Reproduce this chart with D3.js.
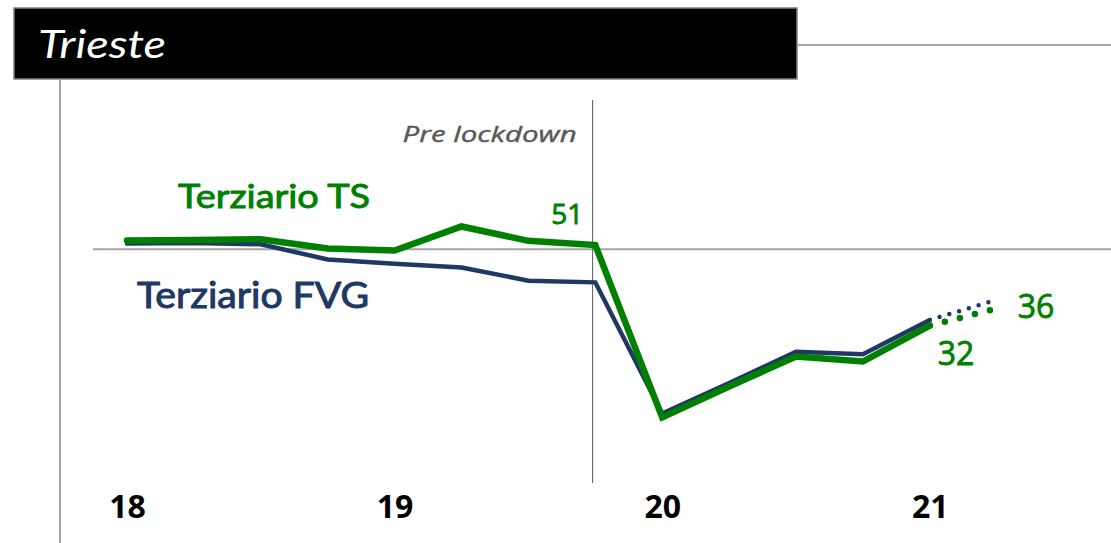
<!DOCTYPE html>
<html>
<head>
<meta charset="utf-8">
<script src="https://cdn.jsdelivr.net/npm/d3@7"></script>
<style>
  html, body { margin: 0; padding: 0; background: #fff; }
  svg { display: block; }
</style>
</head>
<body>
<svg id="chart" width="1111" height="543"></svg>
<script>
// ---- data ----
const title = "Trieste";
const quarters = ["18Q1","18Q2","18Q3","18Q4","19Q1","19Q2","19Q3","19Q4","20Q1","20Q2","20Q3","20Q4","21Q1","21Q2"];
const yearTicks = [0, 4, 8, 12];
const yearLabels = ["18", "19", "20", "21"];
const tsValues  = [52.1, 52.2, 52.4, 50.2, 49.7, 55.4, 52.0, 51.0, 10.3, 17.6, 24.7, 23.5, 32.0];
const fvgValues = [51.4, 51.5, 51.2, 47.6, 46.6, 45.7, 42.6, 42.2, 11.2, 18.4, 25.8, 25.2, 33.3];
const tsForecast  = [32.0, 36.0];   // 21Q1 -> 21Q2 (dotted)
const fvgForecast = [33.3, 38.1];
const referenceLevel = 50;
const lockdownIndex = 6.96;
const seriesNames = ["Terziario TS", "Terziario FVG"];
const annotations = [
  { idx: 7,  value: 51, text: "51" },
  { idx: 12, value: 32, text: "32" },
  { idx: 13, value: 36, text: "36" }
];

// ---- drawing ----
const svg = d3.select("#chart");
const GREEN = "#008000", BLUE = "#203864", GRAY = "#a6a6a6";

const x = d3.scaleLinear().domain([0, 13]).range([127, 127 + 13 * 66.9]);
const y = d3.scaleLinear().domain([0, 60]).range([461, 207]);

// title box
svg.append("rect").attr("x", 14).attr("y", 8).attr("width", 783).attr("height", 71)
  .attr("fill", "#000").attr("stroke", "#7f7f7f").attr("stroke-width", 1.5);
svg.append("line").attr("x1", 797).attr("x2", 1111).attr("y1", 45).attr("y2", 45)
  .attr("stroke", GRAY).attr("stroke-width", 2);
svg.append("text").attr("x", 38).attr("y", 58).text(title)
  .attr("fill", "#fff").attr("font-family", "Lato, 'Open Sans', sans-serif")
  .attr("font-style", "italic").attr("font-size", 38)
  .attr("textLength", 128).attr("lengthAdjust", "spacingAndGlyphs");

// left frame line
svg.append("line").attr("x1", 60).attr("x2", 60).attr("y1", 79).attr("y2", 543)
  .attr("stroke", GRAY).attr("stroke-width", 2);

// reference line at 50
svg.append("line").attr("x1", 93).attr("x2", 1111)
  .attr("y1", y(referenceLevel)).attr("y2", y(referenceLevel))
  .attr("stroke", GRAY).attr("stroke-width", 2);

// lockdown marker
svg.append("line").attr("x1", x(lockdownIndex)).attr("x2", x(lockdownIndex))
  .attr("y1", 100).attr("y2", 483).attr("stroke", "#595959").attr("stroke-width", 1);
svg.append("text").attr("x", x(lockdownIndex) - 16).attr("y", 142).attr("text-anchor", "end")
  .text("Pre lockdown").attr("fill", "#595959")
  .attr("stroke", "#595959").attr("stroke-width", 0.4)
  .attr("font-family", "'Open Sans', sans-serif").attr("font-style", "italic")
  .attr("font-size", 22).attr("font-weight", 400)
  .attr("textLength", 174).attr("lengthAdjust", "spacingAndGlyphs");

const line = d3.line().x((d, i) => x(i)).y(d => y(d));
const fline = d3.line().x(d => x(d[0])).y(d => y(d[1]));

// FVG
svg.append("path").datum(fvgValues).attr("d", line)
  .attr("fill", "none").attr("stroke", BLUE).attr("stroke-width", 4.5)
  .attr("stroke-linejoin", "miter").attr("stroke-linecap", "round");
svg.append("path").datum(fvgForecast.map((v, k) => [12 + k, v])).attr("d", fline)
  .attr("fill", "none").attr("stroke", BLUE).attr("stroke-width", 4.5)
  .attr("stroke-linecap", "round").attr("stroke-dasharray", "0 10.2");

// TS
svg.append("path").datum(tsValues).attr("d", line)
  .attr("fill", "none").attr("stroke", GREEN).attr("stroke-width", 6.5)
  .attr("stroke-linejoin", "miter").attr("stroke-linecap", "round");
svg.append("path").datum(tsForecast.map((v, k) => [12 + k, v])).attr("d", fline)
  .attr("fill", "none").attr("stroke", GREEN).attr("stroke-width", 6.5)
  .attr("stroke-linecap", "round").attr("stroke-dasharray", "0 15.5");

// series labels
svg.append("text").attr("x", 178).attr("y", 208).text(seriesNames[0])
  .attr("fill", GREEN).attr("stroke", GREEN).attr("stroke-width", 0.9)
  .attr("font-family", "Lato, sans-serif").attr("font-weight", 400)
  .attr("font-size", 32).attr("textLength", 192).attr("lengthAdjust", "spacingAndGlyphs");
svg.append("text").attr("x", 137).attr("y", 308).text(seriesNames[1])
  .attr("fill", BLUE).attr("stroke", BLUE).attr("stroke-width", 1)
  .attr("font-family", "Lato, sans-serif").attr("font-weight", 400)
  .attr("font-size", 37).attr("textLength", 232).attr("lengthAdjust", "spacingAndGlyphs");

// value annotations
const annPos = [
  { dx: -44, dy: -21, size: 28 },
  { dx: 8,   dy: 39,  size: 32 },
  { dx: 21,  dy: 9,   size: 32 }
];
annotations.forEach((a, k) => {
  svg.append("text").attr("x", x(a.idx) + annPos[k].dx).attr("y", y(a.value) + annPos[k].dy)
    .text(a.text).attr("fill", GREEN).attr("stroke", GREEN).attr("stroke-width", 0.8)
    .attr("font-family", "'Open Sans', sans-serif").attr("font-weight", 400)
    .attr("font-size", annPos[k].size);
});

// x axis labels
const xAxis = d3.axisBottom(x).tickValues(yearTicks)
  .tickFormat((d, i) => yearLabels[i]).tickSize(0).tickPadding(0);
const gx = svg.append("g").attr("transform", "translate(0,496)").call(xAxis);
gx.select(".domain").remove();
gx.selectAll("text").attr("fill", "#000").attr("font-family", "'Open Sans', sans-serif")
  .attr("font-weight", 700).attr("font-size", 32).attr("dy", 0).attr("y", 22);
</script>
</body>
</html>
